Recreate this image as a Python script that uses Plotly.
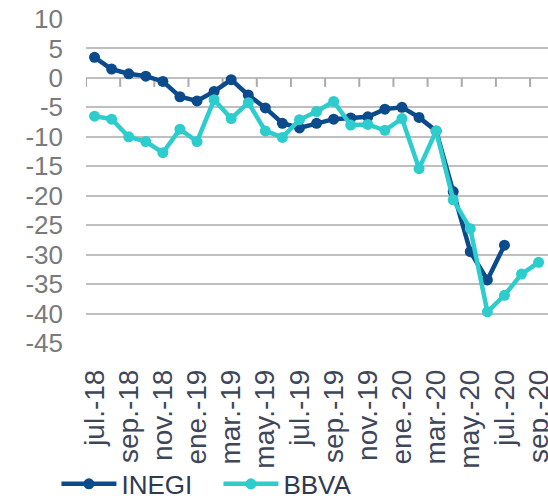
import plotly.graph_objects as go

months = ["jul.-18", "ago.-18", "sep.-18", "oct.-18", "nov.-18", "dic.-18",
          "ene.-19", "feb.-19", "mar.-19", "abr.-19", "may.-19", "jun.-19",
          "jul.-19", "ago.-19", "sep.-19", "oct.-19", "nov.-19", "dic.-19",
          "ene.-20", "feb.-20", "mar.-20", "abr.-20", "may.-20", "jun.-20",
          "jul.-20", "ago.-20", "sep.-20"]

inegi = [3.5, 1.5, 0.7, 0.3, -0.6, -3.2, -3.9, -2.3, -0.3, -2.9, -5.1, -7.7,
         -8.5, -7.7, -7.0, -6.8, -6.6, -5.3, -5.0, -6.7, -9.0, -19.3, -29.5,
         -34.3, -28.4]

bbva = [-6.5, -7.0, -10.0, -10.8, -12.7, -8.7, -10.8, -3.7, -6.9, -4.2, -9.0,
        -10.1, -7.1, -5.7, -4.0, -8.0, -7.9, -8.9, -6.9, -15.4, -9.0, -20.7,
        -25.6, -39.7, -36.9, -33.3, -31.3]

y_ticks = [10, 5, 0, -5, -10, -15, -20, -25, -30, -35, -40, -45]
y_min, y_max = min(y_ticks), max(y_ticks)

idx = list(range(len(months)))
x_range = [-0.5, len(months) - 0.45]

font_family = "Arial, Liberation Sans, sans-serif"
grid_col = "#BFBFBF"

W, H = 548, 498
M = dict(l=86, r=0, t=19, b=155)
plot_h = H - M["t"] - M["b"]
tick_len = 9 * (y_max - y_min) / plot_h  # 9 px expressed in y units

# category-boundary tick marks hanging below the zero line (every 2 months)
tick_x, tick_y = [], []
for b in [i - 0.5 for i in idx[::2]]:
    tick_x += [b, b, None]
    tick_y += [0, -tick_len, None]

fig = go.Figure()
fig.add_trace(go.Scatter(x=tick_x, y=tick_y, mode="lines",
                         line=dict(color="#ABABAB", width=2),
                         showlegend=False, hoverinfo="skip"))
fig.add_trace(go.Scatter(
    x=idx[:len(inegi)], y=inegi, name="INEGI", mode="lines+markers",
    line=dict(color="#0B4A8B", width=4.5), marker=dict(size=11, color="#0B4A8B"),
))
fig.add_trace(go.Scatter(
    x=idx[:len(bbva)], y=bbva, name="BBVA", mode="lines+markers",
    line=dict(color="#2DCCCD", width=4.5), marker=dict(size=11, color="#2DCCCD"),
))

fig.update_layout(
    width=W, height=H,
    margin=dict(**M, autoexpand=False),
    paper_bgcolor="white", plot_bgcolor="white",
    font=dict(family=font_family),
    showlegend=True,
    legend=dict(orientation="h", x=-0.064, xanchor="left", y=-0.435,
                yanchor="middle", font=dict(size=26, color="#2F3A4F"),
                itemwidth=55, entrywidth=92, tracegroupgap=0,
                bgcolor="rgba(0,0,0,0)"),
    xaxis=dict(
        range=x_range, showgrid=False, zeroline=False, showline=False,
        tickmode="array", tickvals=idx[::2], ticktext=months[::2],
        tickangle=-90, ticks="", ticklabelstandoff=20, automargin=False,
        ticklabeloverflow="allow",
        tickfont=dict(size=28, color="#3E4759"),
    ),
    yaxis=dict(
        range=[y_min, y_max], tickmode="array", tickvals=y_ticks,
        ticktext=[str(v) for v in y_ticks], automargin=False,
        showgrid=True, gridcolor=grid_col, gridwidth=2, zeroline=False,
        showline=False, ticks="", ticklabelstandoff=22,
        tickfont=dict(size=26, color="#7A7A7A"),
    ),
)

fig.write_html("out.html", config={"displayModeBar": False},
               post_script="document.body.style.margin='0';")
